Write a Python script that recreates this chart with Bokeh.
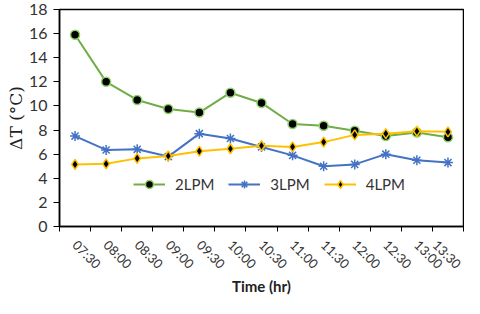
import math
from bokeh.plotting import figure
from bokeh.models import Range1d, FixedTicker, Legend, LegendItem
from bokeh.embed import file_html
from bokeh.resources import INLINE

times = ["07:30", "08:00", "08:30", "09:00", "09:30", "10:00", "10:30",
         "11:00", "11:30", "12:00", "12:30", "13:00", "13:30"]
lpm2 = [15.9, 12.0, 10.5, 9.75, 9.45, 11.1, 10.25, 8.5, 8.35, 7.95, 7.5, 7.8, 7.4]
lpm3 = [7.5, 6.35, 6.4, 5.8, 7.7, 7.3, 6.6, 5.9, 5.0, 5.15, 6.0, 5.5, 5.3]
lpm4 = [5.15, 5.2, 5.65, 5.85, 6.25, 6.45, 6.7, 6.6, 7.0, 7.6, 7.7, 7.9, 7.85]
y_ticks = [0, 2, 4, 6, 8, 10, 12, 14, 16, 18]

xs = [i + 0.5 for i in range(len(times))]

p = figure(width=464, height=298, output_backend="svg", toolbar_location=None,
           x_range=Range1d(0, len(times)), y_range=Range1d(0, 18),
           min_border_left=59, min_border_right=1, min_border_top=9,
           min_border_bottom=70)

p.xgrid.visible = False
p.ygrid.visible = False
p.outline_line_color = "black"
p.outline_line_width = 1.5
p.background_fill_color = "white"
p.border_fill_color = "white"

font = "Lato"

# x axis
p.xaxis.ticker = FixedTicker(ticks=xs, minor_ticks=list(range(len(times) + 1)))
p.xaxis.major_label_overrides = {x: t for x, t in zip(xs, times)}
p.xaxis.major_label_orientation = -math.pi / 4
p.xaxis.major_tick_out = 0
p.xaxis.major_tick_in = 0
p.xaxis.minor_tick_out = 5
p.xaxis.minor_tick_in = 0
p.xaxis.minor_tick_line_color = "black"
p.xaxis.axis_line_color = "black"
p.xaxis.axis_line_width = 1.5
p.xaxis.major_label_text_font = font
p.xaxis.major_label_text_font_size = "13px"
p.xaxis.major_label_text_color = "#333333"
p.xaxis.major_label_standoff = 11
p.xaxis.axis_label = "Time (hr)"
p.xaxis.axis_label_text_font = font
p.xaxis.axis_label_text_font_size = "15px"
p.xaxis.axis_label_text_font_style = "bold"
p.xaxis.axis_label_text_color = "#222222"
p.xaxis.axis_label_standoff = -3

# y axis
p.yaxis.ticker = FixedTicker(ticks=y_ticks)
p.yaxis.minor_tick_line_color = None
p.yaxis.major_tick_out = 6
p.yaxis.major_tick_in = 0
p.yaxis.major_tick_line_color = "black"
p.yaxis.axis_line_color = "black"
p.yaxis.axis_line_width = 1.5
p.yaxis.major_label_text_font = font
p.yaxis.major_label_text_font_size = "16px"
p.yaxis.major_label_text_color = "#333333"
p.yaxis.major_label_standoff = 6
p.yaxis.axis_label = "ΔT (°C)"
p.yaxis.axis_label_text_font = "DejaVu Serif"
p.yaxis.axis_label_text_font_size = "17px"
p.yaxis.axis_label_text_font_style = "normal"
p.yaxis.axis_label_text_color = "#222222"
p.yaxis.axis_label_standoff = 0

green = "#70AD47"
blue = "#4472C4"
yellow = "#FFC000"

l2 = p.line(xs, lpm2, line_color=green, line_width=2)
m2 = p.scatter(xs, lpm2, marker="circle", size=9, fill_color="black",
               line_color="#8FD16A", line_width=1.5)
l3 = p.line(xs, lpm3, line_color=blue, line_width=2)
m3 = p.scatter(xs, lpm3, marker="asterisk", size=10, line_color=blue, line_width=1.5)
l4 = p.line(xs, lpm4, line_color=yellow, line_width=2)
m4 = p.scatter(xs, lpm4, marker="diamond", size=10, fill_color="black",
               line_color=yellow, line_width=1.5)

legend = Legend(items=[
    LegendItem(label="2LPM", renderers=[l2, m2]),
    LegendItem(label="3LPM", renderers=[l3, m3]),
    LegendItem(label="4LPM", renderers=[l4, m4]),
], orientation="horizontal", location=(74, 32))
legend.border_line_color = None
legend.background_fill_alpha = 0
legend.padding = 0
legend.margin = 0
legend.spacing = 14
legend.glyph_width = 32
legend.label_standoff = 10
legend.label_text_font = font
legend.label_text_font_size = "15px"
legend.label_text_color = "#333333"
p.add_layout(legend, "center")

open("out.html", "w").write(file_html(p, INLINE))
